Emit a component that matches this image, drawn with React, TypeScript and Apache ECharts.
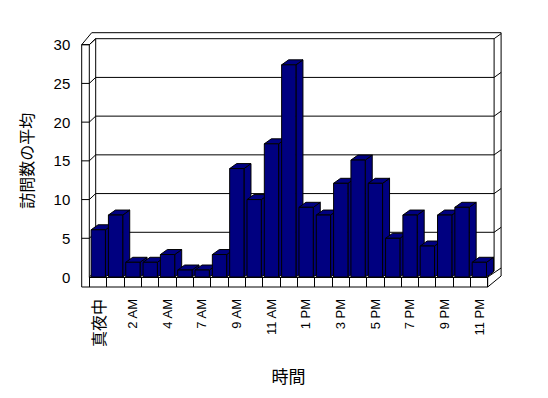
import React, { useEffect, useRef } from "react";
import * as echarts from "echarts";

const categories = [
  "真夜中", "1 AM", "2 AM", "3 AM", "4 AM", "6 AM", "7 AM", "8 AM", "9 AM", "10 AM", "11 AM", "正午",
  "1 PM", "2 PM", "3 PM", "4 PM", "5 PM", "6 PM", "7 PM", "8 PM", "9 PM", "10 PM", "11 PM",
];
const visits = [6.1, 8.0, 1.9, 1.9, 2.9, 0.9, 0.9, 2.9, 14.0, 10.0, 17.2, 27.4, 9.0, 8.0, 12.1, 15.1, 12.1, 5.0, 8.0, 4.0, 8.0, 9.0, 1.9];
const yTicks = [0, 5, 10, 15, 20, 25, 30];
const xAxisTitle = "時間";
const yAxisTitle = "訪問数の平均";

const FONT = "'Liberation Sans', Arial, 'Noto Sans CJK JP', sans-serif";
const CJK = "'Noto Sans CJK JP', sans-serif";

export default function App() {
  const ref = useRef<HTMLDivElement>(null);
  useEffect(() => {
    document.body.style.margin = "0";
    const chart = echarts.init(ref.current!, null, { renderer: "svg" });
    const line = (x1: number, y1: number, x2: number, y2: number) => ({
      type: "line",
      shape: { x1, y1, x2, y2 },
      style: { stroke: "#000", lineWidth: 1 },
      silent: true,
    });
    const DX = 6.4, DY = -6; // front -> back wall face
    const LW = 7.6; // left wall thickness
    const FD = 10; // floor slab thickness
    const option: any = {
      animation: false,
      backgroundColor: "#fff",
      grid: { left: 89.3, top: 44.7, width: 398.4, height: 232.3 },
      xAxis: {
        type: "category",
        data: categories,
        boundaryGap: true,
        name: xAxisTitle,
        nameLocation: "middle",
        nameGap: 90,
        nameTextStyle: { fontFamily: CJK, fontSize: 17, color: "#000" },
        axisLine: { show: true, lineStyle: { color: "#000", width: 1 } },
        axisTick: { show: true, interval: 0, length: FD, lineStyle: { color: "#000", width: 1 } },
        axisLabel: {
          interval: 1,
          rotate: 90,
          margin: 22,
          fontFamily: FONT,
          fontSize: 13,
          color: "#000",
          formatter: (v: string) => (/[\u3000-\u9fff]/.test(v) ? "{c|" + v + "}" : v),
          rich: { c: { fontFamily: CJK, fontSize: 16, color: "#000" } },
        },
        splitLine: { show: false },
      },
      yAxis: {
        type: "value",
        min: 0,
        max: 30,
        interval: 5,
        name: yAxisTitle,
        nameLocation: "middle",
        nameRotate: 90,
        nameGap: 55,
        nameTextStyle: { fontFamily: CJK, fontSize: 16, color: "#000" },
        axisLine: { show: false },
        axisTick: { show: false },
        splitLine: { show: false },
        axisLabel: { margin: 19, fontFamily: FONT, fontSize: 15, color: "#000" },
      },
      series: [
        {
          type: "custom",
          name: "walls",
          silent: true,
          data: yTicks.map((v) => [0, v]),
          renderItem: (params: any, api: any) => {
            const cs = params.coordSys;
            const x0 = cs.x, x1 = cs.x + cs.width;
            const yT = cs.y, yB = cs.y + cs.height;
            const v = api.value(1);
            const y = api.coord([0, v])[1];
            const children: any[] = [];
            if (v > 0) {
              children.push(line(x0 - LW, y, x0, y));
            }
            children.push(line(x0, y, x0 + DX, y + DY));
            children.push(line(x0 + DX, y + DY, x1 + DX, y + DY));
            if (v > 0) children.push(line(x1 + DX, y + DY, x1 + DX + 7, y + DY - 5));
            if (params.dataIndex === 0) {
              const oTop = yT - 12;
              const oRight = x1 + DX + 7;
              // left wall front face
              children.push(line(x0 - LW, yT, x0 - LW, yB + FD));
              children.push(line(x0, yT, x0, yB));
              children.push(line(x0 - LW, yT, x0, yT));
              // left wall top
              children.push(line(x0 - LW, yT, x0 - LW + 10, oTop));
              children.push(line(x0, yT, x0 + DX, yT + DY));
              // back wall outer top & right
              children.push(line(x0 - LW + 10, oTop, oRight, oTop));
              children.push(line(oRight, oTop, oRight, yB + FD - 11));
              // back wall inner edges
              children.push(line(x0 + DX, yT + DY, x0 + DX, yB + DY));
              children.push(line(x1 + DX, yT + DY, x1 + DX, yB + DY));
              // floor slab
              children.push(line(x0 - LW, yB + FD, x1, yB + FD));
              children.push(line(x1, yB, x1, yB + FD));
              children.push(line(x1, yB + FD, oRight, yB + FD - 11));
              children.push(line(x1, yB, oRight, yB - 9));
            }
            return { type: "group", children };
          },
          z: 1,
        },
        {
          type: "custom",
          name: "訪問数の平均",
          data: visits.map((v, i) => [i, v]),
          renderItem: (params: any, api: any) => {
            const i = api.value(0);
            const v = api.value(1);
            const top = api.coord([i, v]);
            const base = api.coord([i, 0]);
            const w = api.size([1, 0])[0];
            const xs = top[0] - w / 2 + 1.8;
            const bw = w * 0.826;
            const dx = 7, dy = -5;
            const yt = top[1], yb = base[1];
            const st = { fill: "#000080", stroke: "#000", lineWidth: 1 };
            return {
              type: "group",
              children: [
                {
                  type: "polygon",
                  shape: { points: [[xs + bw, yt], [xs + bw + dx, yt + dy], [xs + bw + dx, yb + dy], [xs + bw, yb]] },
                  style: st,
                },
                {
                  type: "polygon",
                  shape: { points: [[xs, yt], [xs + dx, yt + dy], [xs + bw + dx, yt + dy], [xs + bw, yt]] },
                  style: st,
                },
                { type: "rect", shape: { x: xs, y: yt, width: bw, height: yb - yt }, style: st },
              ],
            };
          },
          z: 2,
        },
      ],
    };
    chart.setOption(option);
    return () => chart.dispose();
  }, []);
  return <div ref={ref} style={{ width: 548, height: 398 }} />;
}
